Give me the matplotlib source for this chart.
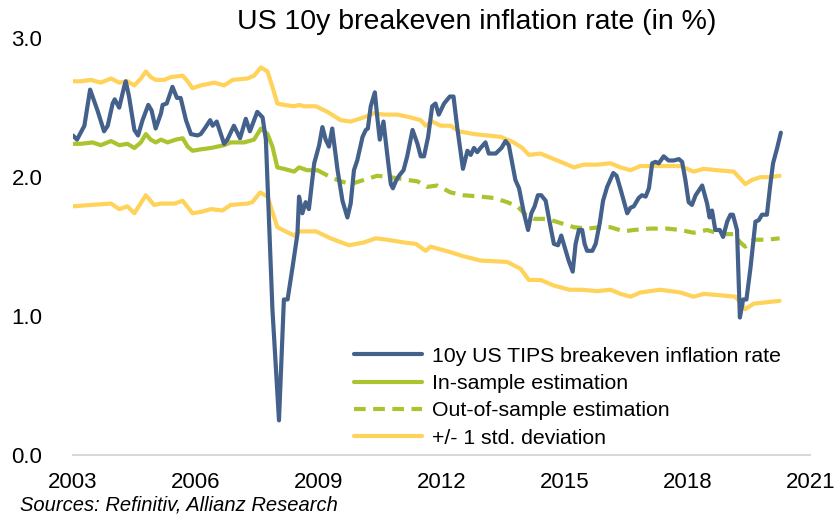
import matplotlib
matplotlib.use("Agg")
import matplotlib.pyplot as plt
import numpy as np

plt.rcParams['font.family'] = ['Liberation Sans', 'DejaVu Sans']

## DATA ##

# 10y US TIPS breakeven inflation rate, in % (decimal year, value)
tips_years = [2003.00, 2003.10, 2003.28, 2003.42, 2003.60, 2003.76, 2003.85, 2003.97, 2004.02, 2004.13,
              2004.25, 2004.29, 2004.37, 2004.50, 2004.59, 2004.70, 2004.84, 2004.92, 2005.02, 2005.15,
              2005.19, 2005.29, 2005.43, 2005.54, 2005.63, 2005.76, 2005.88, 2006.04, 2006.12, 2006.24,
              2006.35, 2006.41, 2006.51, 2006.59, 2006.69, 2006.77, 2006.93, 2007.08, 2007.22, 2007.32,
              2007.50, 2007.63, 2007.71, 2007.87, 2008.03, 2008.15, 2008.24, 2008.36, 2008.48, 2008.52,
              2008.60, 2008.68, 2008.76, 2008.89, 2009.01, 2009.09, 2009.17, 2009.25, 2009.33, 2009.46,
              2009.58, 2009.70, 2009.78, 2009.86, 2009.94, 2010.07, 2010.15, 2010.20, 2010.27, 2010.37,
              2010.43, 2010.49, 2010.58, 2010.67, 2010.76, 2010.81, 2010.88, 2010.96, 2011.07, 2011.16,
              2011.29, 2011.41, 2011.49, 2011.57, 2011.67, 2011.77, 2011.85, 2011.93, 2012.06, 2012.20,
              2012.29, 2012.38, 2012.52, 2012.63, 2012.71, 2012.79, 2012.87, 2012.95, 2013.07, 2013.15,
              2013.32, 2013.46, 2013.56, 2013.64, 2013.80, 2013.89, 2014.01, 2014.11, 2014.19, 2014.27,
              2014.35, 2014.43, 2014.54, 2014.64, 2014.74, 2014.84, 2014.92, 2015.00, 2015.10, 2015.20,
              2015.27, 2015.35, 2015.43, 2015.49, 2015.55, 2015.68, 2015.76, 2015.86, 2015.94, 2016.04,
              2016.19, 2016.27, 2016.37, 2016.53, 2016.61, 2016.69, 2016.81, 2016.89, 2016.98, 2017.06,
              2017.14, 2017.22, 2017.30, 2017.42, 2017.54, 2017.67, 2017.79, 2017.87, 2017.95, 2018.03,
              2018.11, 2018.20, 2018.36, 2018.48, 2018.54, 2018.60, 2018.68, 2018.79, 2018.87, 2018.97,
              2019.05, 2019.11, 2019.21, 2019.28, 2019.36, 2019.44, 2019.54, 2019.66, 2019.74, 2019.82,
              2019.94, 2020.02, 2020.09, 2020.19, 2020.28]
tips_values = [2.30, 2.27, 2.37, 2.63, 2.48, 2.33, 2.37, 2.53, 2.56, 2.50,
               2.65, 2.69, 2.58, 2.34, 2.30, 2.41, 2.52, 2.48, 2.35, 2.46,
               2.52, 2.53, 2.65, 2.57, 2.57, 2.41, 2.31, 2.30, 2.31, 2.36,
               2.41, 2.37, 2.40, 2.33, 2.24, 2.27, 2.37, 2.28, 2.42, 2.33,
               2.47, 2.43, 2.27, 1.05, 0.25, 1.12, 1.12, 1.35, 1.59, 1.86,
               1.74, 1.82, 1.77, 2.10, 2.23, 2.36, 2.27, 2.22, 2.35, 2.05,
               1.83, 1.71, 1.81, 2.05, 2.12, 2.29, 2.34, 2.35, 2.51, 2.61,
               2.43, 2.27, 2.40, 2.17, 1.95, 1.92, 1.97, 2.01, 2.05, 2.15,
               2.34, 2.24, 2.15, 2.15, 2.29, 2.51, 2.53, 2.45, 2.53, 2.58,
               2.58, 2.36, 2.06, 2.19, 2.16, 2.21, 2.18, 2.21, 2.25, 2.17,
               2.17, 2.21, 2.26, 2.23, 1.98, 1.92, 1.74, 1.62, 1.74, 1.79,
               1.87, 1.87, 1.83, 1.67, 1.52, 1.51, 1.58, 1.50, 1.40, 1.32,
               1.52, 1.62, 1.62, 1.52, 1.47, 1.47, 1.52, 1.67, 1.83, 1.93,
               2.03, 2.01, 1.91, 1.74, 1.78, 1.79, 1.85, 1.87, 1.86, 1.92,
               2.10, 2.11, 2.10, 2.15, 2.12, 2.12, 2.13, 2.11, 1.98, 1.82,
               1.80, 1.87, 1.94, 1.81, 1.71, 1.76, 1.62, 1.62, 1.57, 1.68,
               1.73, 1.73, 1.62, 0.99, 1.12, 1.12, 1.35, 1.68, 1.69, 1.73,
               1.73, 1.94, 2.10, 2.21, 2.32]

# In-sample estimation
in_years = [2003.00, 2003.20, 2003.48, 2003.68, 2003.93, 2004.13, 2004.33, 2004.50, 2004.66, 2004.78,
            2004.90, 2005.02, 2005.15, 2005.31, 2005.51, 2005.68, 2005.80, 2005.92, 2006.12, 2006.37,
            2006.69, 2006.85, 2007.18, 2007.42, 2007.59, 2007.75, 2007.87, 2007.99, 2008.15, 2008.40,
            2008.52, 2008.72, 2008.97]
in_values = [2.24, 2.24, 2.25, 2.23, 2.26, 2.23, 2.24, 2.21, 2.25, 2.31,
             2.27, 2.25, 2.27, 2.25, 2.27, 2.28, 2.22, 2.19, 2.20, 2.21,
             2.23, 2.25, 2.25, 2.27, 2.35, 2.31, 2.22, 2.07, 2.06, 2.04,
             2.07, 2.05, 2.05]

# Out-of-sample estimation
out_years = [2008.97, 2009.29, 2009.54, 2009.78, 2010.10, 2010.43, 2010.76, 2011.16, 2011.41, 2011.65,
             2011.89, 2012.22, 2012.54, 2012.95, 2013.28, 2013.60, 2013.85, 2014.05, 2014.25, 2014.58,
             2014.90, 2015.23, 2015.55, 2015.88, 2016.12, 2016.45, 2016.69, 2017.10, 2017.50, 2017.83,
             2018.15, 2018.48, 2018.80, 2019.13, 2019.29, 2019.41, 2019.62, 2019.94, 2020.25]
out_values = [2.05, 2.00, 1.97, 1.95, 1.98, 2.01, 2.00, 1.98, 1.97, 1.93,
              1.94, 1.89, 1.87, 1.86, 1.85, 1.82, 1.79, 1.73, 1.70, 1.70,
              1.67, 1.64, 1.63, 1.64, 1.64, 1.61, 1.62, 1.63, 1.63, 1.62,
              1.60, 1.62, 1.59, 1.59, 1.53, 1.50, 1.55, 1.55, 1.56]

# +1 std. deviation band
upper_years = [2003.00, 2003.20, 2003.44, 2003.68, 2003.93, 2004.13, 2004.33, 2004.50, 2004.66, 2004.78,
               2004.90, 2005.02, 2005.23, 2005.39, 2005.68, 2005.80, 2005.92, 2006.12, 2006.45, 2006.69,
               2006.90, 2007.26, 2007.42, 2007.59, 2007.75, 2007.87, 2007.99, 2008.15, 2008.40, 2008.52,
               2008.64, 2008.93, 2009.21, 2009.54, 2009.78, 2010.10, 2010.35, 2010.59, 2010.92, 2011.24,
               2011.49, 2011.61, 2011.77, 2011.98, 2012.22, 2012.42, 2012.79, 2013.44, 2013.76, 2013.97,
               2014.13, 2014.41, 2014.74, 2015.07, 2015.23, 2015.47, 2015.80, 2016.12, 2016.37, 2016.61,
               2016.85, 2017.34, 2017.83, 2018.15, 2018.40, 2018.72, 2019.13, 2019.29, 2019.41, 2019.58,
               2019.78, 2020.02, 2020.25]
upper_values = [2.69, 2.69, 2.70, 2.68, 2.71, 2.68, 2.69, 2.66, 2.71, 2.76,
                2.72, 2.70, 2.70, 2.72, 2.73, 2.69, 2.64, 2.66, 2.68, 2.66,
                2.70, 2.71, 2.73, 2.79, 2.76, 2.65, 2.53, 2.52, 2.51, 2.52,
                2.51, 2.51, 2.47, 2.41, 2.40, 2.43, 2.46, 2.45, 2.45, 2.43,
                2.41, 2.37, 2.40, 2.37, 2.37, 2.33, 2.31, 2.29, 2.25, 2.21,
                2.16, 2.17, 2.13, 2.09, 2.07, 2.09, 2.09, 2.10, 2.07, 2.05,
                2.08, 2.08, 2.08, 2.04, 2.06, 2.05, 2.04, 1.99, 1.95, 1.98,
                2.00, 2.00, 2.01]

# -1 std. deviation band
lower_years = [2003.00, 2003.43, 2003.93, 2004.13, 2004.33, 2004.50, 2004.78, 2004.98, 2005.15, 2005.48,
               2005.68, 2005.92, 2006.12, 2006.37, 2006.65, 2006.85, 2007.26, 2007.38, 2007.57, 2007.75,
               2007.99, 2008.19, 2008.40, 2008.52, 2008.93, 2009.29, 2009.74, 2010.10, 2010.39, 2010.67,
               2011.08, 2011.37, 2011.61, 2011.73, 2012.22, 2012.54, 2012.95, 2013.60, 2013.93, 2014.13,
               2014.42, 2014.74, 2015.12, 2015.41, 2015.80, 2016.12, 2016.37, 2016.61, 2016.85, 2017.34,
               2017.83, 2018.15, 2018.40, 2018.80, 2019.17, 2019.29, 2019.41, 2019.62, 2019.94, 2020.25]
lower_values = [1.79, 1.80, 1.81, 1.77, 1.79, 1.74, 1.87, 1.80, 1.81, 1.81,
                1.83, 1.74, 1.75, 1.77, 1.76, 1.80, 1.81, 1.82, 1.89, 1.86,
                1.64, 1.61, 1.58, 1.61, 1.61, 1.56, 1.51, 1.53, 1.56, 1.55,
                1.53, 1.52, 1.47, 1.50, 1.46, 1.43, 1.40, 1.39, 1.34, 1.26,
                1.26, 1.22, 1.19, 1.19, 1.18, 1.19, 1.16, 1.14, 1.17, 1.19,
                1.17, 1.14, 1.16, 1.15, 1.14, 1.10, 1.05, 1.09, 1.10, 1.11]

year_ticks = [2003, 2006, 2009, 2012, 2015, 2018, 2021]
value_ticks = [0.0, 1.0, 2.0, 3.0]

## COLOURS ##

blue = '#44618b'
green = '#a9c42e'
yellow = '#ffd25a'

## FIGURE ##

fig = plt.figure(figsize=(8.38, 5.16), dpi=100)
ax = fig.add_axes([0.087, 0.118, 0.880, 0.808])

ax.plot(upper_years, upper_values, color=yellow, lw=3, solid_capstyle='round', label='+/- 1 std. deviation')
ax.plot(lower_years, lower_values, color=yellow, lw=3, solid_capstyle='round')
ax.plot(out_years, out_values, color=green, lw=3, dashes=(2.8, 1.8), label='Out-of-sample estimation')
ax.plot(in_years, in_values, color=green, lw=3, solid_capstyle='round', label='In-sample estimation')
ax.plot(tips_years, tips_values, color=blue, lw=3, solid_capstyle='round', solid_joinstyle='round',
        label='10y US TIPS breakeven inflation rate')

ax.set_xlim(2003, 2021)
ax.set_ylim(0, 3)
ax.set_xticks(year_ticks)
ax.set_xticklabels([str(y) for y in year_ticks])
ax.set_yticks(value_ticks)
ax.set_yticklabels([f'{v:.1f}' for v in value_ticks])
ax.tick_params(axis='both', length=0, labelsize=16)
ax.tick_params(axis='x', pad=12)
ax.tick_params(axis='y', pad=22)

for side in ['top', 'right', 'left']:
    ax.spines[side].set_visible(False)
ax.spines['bottom'].set_color('#d9d9d9')
ax.spines['bottom'].set_linewidth(1.5)

# Legend in the order of the series
handles, labels = ax.get_legend_handles_labels()
order = [3, 2, 1, 0]
ax.legend([handles[i] for i in order], [labels[i] for i in order],
          loc='upper left', bbox_to_anchor=(0.37, 0.28), frameon=False,
          fontsize=15.3, handlelength=3.2, handletextpad=0.45, labelspacing=0.39,
          borderaxespad=0)

fig.text(0.569, 0.957, 'US 10y breakeven inflation rate (in %)', ha='center', va='center', fontsize=20.5)
fig.text(0.024, 0.021, 'Sources: Refinitiv, Allianz Research', ha='left', va='center',
         fontsize=14.5, style='italic')

fig.savefig('out.png', dpi=100)
